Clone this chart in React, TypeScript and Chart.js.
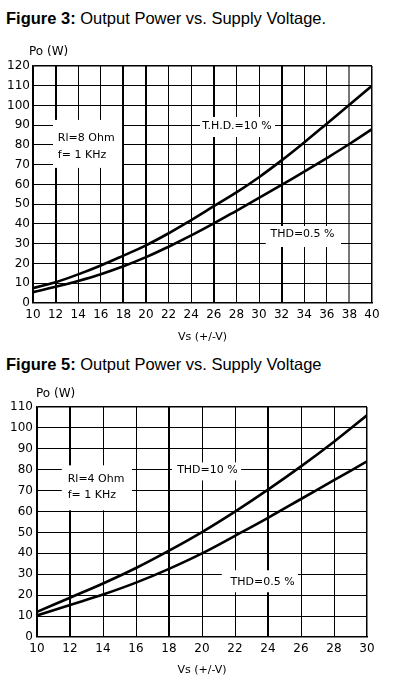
import React, { useEffect, useRef } from 'react';
import { Chart, registerables } from 'chart.js';

Chart.register(...registerables);

// ---------- Figure 3 data ----------
const vsFig3 = [10, 12, 14, 16, 18, 20, 22, 24, 26, 28, 30, 32, 34, 36, 38, 40];
const thd10Fig3 = [7.5, 10.5, 14.5, 19, 24, 29.2, 35.3, 42, 49, 56, 63.7, 72.2, 81.3, 90.8, 100.4, 110];
const thd05Fig3 = [5.5, 8.2, 11.2, 14.6, 18.6, 23.2, 28.5, 34.2, 40.3, 46.7, 53.2, 59.8, 66.5, 73.4, 80.5, 88];

// ---------- Figure 5 data ----------
const vsFig5 = [10, 12, 14, 16, 18, 20, 22, 24, 26, 28, 30];
const thd10Fig5 = [12, 18.8, 25.6, 33, 41.3, 50.2, 60, 70.5, 81.6, 93.4, 106];
const thd05Fig5 = [10.3, 15.3, 20.3, 26, 32.6, 40, 48.4, 57, 66, 75, 84];

const FONT = '"DejaVu Sans", sans-serif';

type Txt = { text: string; x: number; y: number; align: CanvasTextAlign };
type Note = { box: [number, number, number, number]; texts: Txt[] };

type ChartSpec = {
  vs: number[];
  upper: number[];
  lower: number[];
  xMin: number;
  xMax: number;
  yMax: number;
  thickX: number[];
  grayX: number[];
  notes: Note[];
  pad: { top: number; right: number };
  yAxisWidth: number;
  xAxisHeight: number;
  titlePadBottom: number;
  yLabelDx: number;
  yLabelDy: number;
  tickPadY: number;
};

const fig3Notes: Note[] = [
  {
    box: [11.77, 17.88, 68.4, 92.7],
    texts: [
      { text: 'Rl=8 Ohm', x: 12.2, y: 83.7, align: 'left' },
      { text: 'f= 1 KHz', x: 12.2, y: 74.9, align: 'left' },
    ],
  },
  { box: [24.78, 31.42, 84.05, 94.2], texts: [{ text: 'T.H.D.=10 %', x: 28.05, y: 89.6, align: 'center' }] },
  { box: [30.6, 37.26, 28.35, 39], texts: [{ text: 'THD=0.5 %', x: 33.85, y: 34.8, align: 'center' }] },
];

const fig5Notes: Note[] = [
  {
    box: [11.5, 15.75, 60.6, 82.1],
    texts: [
      { text: 'Rl=4 Ohm', x: 11.86, y: 75.4, align: 'left' },
      { text: 'f= 1 KHz', x: 11.86, y: 67.8, align: 'left' },
    ],
  },
  { box: [18.18, 22.37, 74.9, 83.5], texts: [{ text: 'THD=10 %', x: 20.33, y: 79.7, align: 'center' }] },
  { box: [21.2, 25.82, 21.4, 31.9], texts: [{ text: 'THD=0.5 %', x: 23.67, y: 26.3, align: 'center' }] },
];

function makePlugin(spec: ChartSpec) {
  return {
    id: 'notes',
    beforeDatasetsDraw(chart: any) {
      const { ctx } = chart;
      const xs = chart.scales.x;
      const ys = chart.scales.y;
      ctx.save();
      for (const n of spec.notes) {
        const x0 = xs.getPixelForValue(n.box[0]);
        const x1 = xs.getPixelForValue(n.box[1]);
        const y0 = ys.getPixelForValue(n.box[2]);
        const y1 = ys.getPixelForValue(n.box[3]);
        ctx.fillStyle = '#fff';
        ctx.fillRect(Math.min(x0, x1), Math.min(y0, y1), Math.abs(x1 - x0), Math.abs(y1 - y0));
        ctx.fillStyle = '#000';
        ctx.font = `11px ${FONT}`;
        ctx.textBaseline = 'middle';
        for (const t of n.texts) {
          ctx.textAlign = t.align;
          ctx.fillText(t.text, xs.getPixelForValue(t.x), ys.getPixelForValue(t.y));
        }
      }
      ctx.restore();
    },
    afterDraw(chart: any) {
      const { ctx, chartArea } = chart;
      ctx.save();
      ctx.fillStyle = '#000';
      ctx.font = `12px ${FONT}`;
      ctx.textAlign = 'left';
      ctx.textBaseline = 'middle';
      ctx.fillText('Po (W)', chartArea.left + spec.yLabelDx, chartArea.top - spec.yLabelDy);
      ctx.restore();
    },
  };
}

function PowerChart({ spec }: { spec: ChartSpec }) {
  const ref = useRef<HTMLCanvasElement | null>(null);
  useEffect(() => {
    if (!ref.current) return;
    const toPts = (ys: number[]) => spec.vs.map((v, i) => ({ x: v, y: ys[i] }));
    const chart = new Chart(ref.current, {
      type: 'line',
      data: {
        datasets: [
          {
            label: 'THD=10 %',
            data: toPts(spec.upper),
            borderColor: '#000',
            borderWidth: 2.6,
            pointRadius: 0,
            tension: 0.4,
            fill: false,
          },
          {
            label: 'THD=0.5 %',
            data: toPts(spec.lower),
            borderColor: '#000',
            borderWidth: 2.6,
            pointRadius: 0,
            tension: 0.4,
            fill: false,
          },
        ],
      },
      options: {
        responsive: false,
        animation: false,
        events: [],
        layout: { padding: { top: spec.pad.top, right: spec.pad.right, left: 0, bottom: 0 } },
        plugins: { legend: { display: false }, tooltip: { enabled: false }, title: { display: false } },
        scales: {
          x: {
            type: 'linear',
            min: spec.xMin,
            max: spec.xMax,
            ticks: {
              stepSize: 2,
              color: '#000',
              font: { family: FONT, size: 12 },
              padding: 5,
              maxRotation: 0,
              autoSkip: false,
            },
            grid: {
              drawTicks: false,
              color: (c: any) => {
                const v = c.tick ? c.tick.value : undefined;
                if (v !== undefined && spec.grayX.includes(v)) return '#777';
                return '#000';
              },
              lineWidth: (c: any) => {
                const v = c.tick ? c.tick.value : undefined;
                if (v === undefined) return 1;
                if (spec.thickX.includes(v) || spec.grayX.includes(v)) return 2;
                if (v === spec.xMax) return 1.5;
                return 1;
              },
            },
            border: { display: true, color: '#000', width: 1.5 },
            title: {
              display: true,
              text: 'Vs (+/-V)',
              color: '#000',
              font: { family: FONT, size: 11 },
              padding: { top: 0, bottom: spec.titlePadBottom },
            },
            afterFit: (s: any) => {
              s.height = spec.xAxisHeight;
            },
          },
          y: {
            type: 'linear',
            min: 0,
            max: spec.yMax,
            ticks: {
              stepSize: 10,
              color: '#000',
              font: { family: FONT, size: 12 },
              padding: spec.tickPadY,
            },
            grid: {
              drawTicks: false,
              color: '#000',
              lineWidth: (c: any) => {
                const v = c.tick ? c.tick.value : undefined;
                if (v === spec.yMax) return 1.5;
                return 1.1;
              },
            },
            border: { display: true, color: '#000', width: 1.5 },
            afterFit: (s: any) => {
              s.width = spec.yAxisWidth;
            },
          },
        },
      },
      plugins: [makePlugin(spec)],
    } as any);
    return () => chart.destroy();
  }, [spec]);
  return <canvas ref={ref} width={397} height={310} style={{ display: 'block', width: 397, height: 310 }} />;
}

const spec3: ChartSpec = {
  vs: vsFig3,
  upper: thd10Fig3,
  lower: thd05Fig3,
  xMin: 10,
  xMax: 40,
  yMax: 120,
  thickX: [12, 18, 20, 26, 32],
  grayX: [38],
  notes: fig3Notes,
  pad: { top: 26, right: 25 },
  yAxisWidth: 33,
  xAxisHeight: 47,
  titlePadBottom: 6.4,
  yLabelDx: -4,
  yLabelDy: 14,
  tickPadY: 3,
};

const spec5: ChartSpec = {
  vs: vsFig5,
  upper: thd10Fig5,
  lower: thd05Fig5,
  xMin: 10,
  xMax: 30,
  yMax: 110,
  thickX: [12, 18, 24],
  grayX: [],
  notes: fig5Notes,
  pad: { top: 32, right: 30 },
  yAxisWidth: 37,
  xAxisHeight: 48,
  titlePadBottom: 8.4,
  yLabelDx: -1,
  yLabelDy: 13.5,
  tickPadY: 4,
};

const titleStyle: React.CSSProperties = {
  position: 'absolute',
  left: 6,
  fontFamily: '"Liberation Sans", Arial, sans-serif',
  fontSize: 16.5,
  lineHeight: 1,
  color: '#000',
  whiteSpace: 'nowrap',
};

export default function App() {
  return (
    <div style={{ position: 'absolute', left: 0, top: 0, width: 397, height: 685, background: '#fff', overflow: 'hidden' }}>
      <div style={{ ...titleStyle, top: 10 }}>
        <b>Figure 3:</b> Output Power vs. Supply Voltage.
      </div>
      <div style={{ position: 'absolute', left: 0, top: 40 }}>
        <PowerChart spec={spec3} />
      </div>
      <div style={{ ...titleStyle, top: 356 }}>
        <b>Figure 5:</b> Output Power vs. Supply Voltage
      </div>
      <div style={{ position: 'absolute', left: 0, top: 375 }}>
        <PowerChart spec={spec5} />
      </div>
    </div>
  );
}
